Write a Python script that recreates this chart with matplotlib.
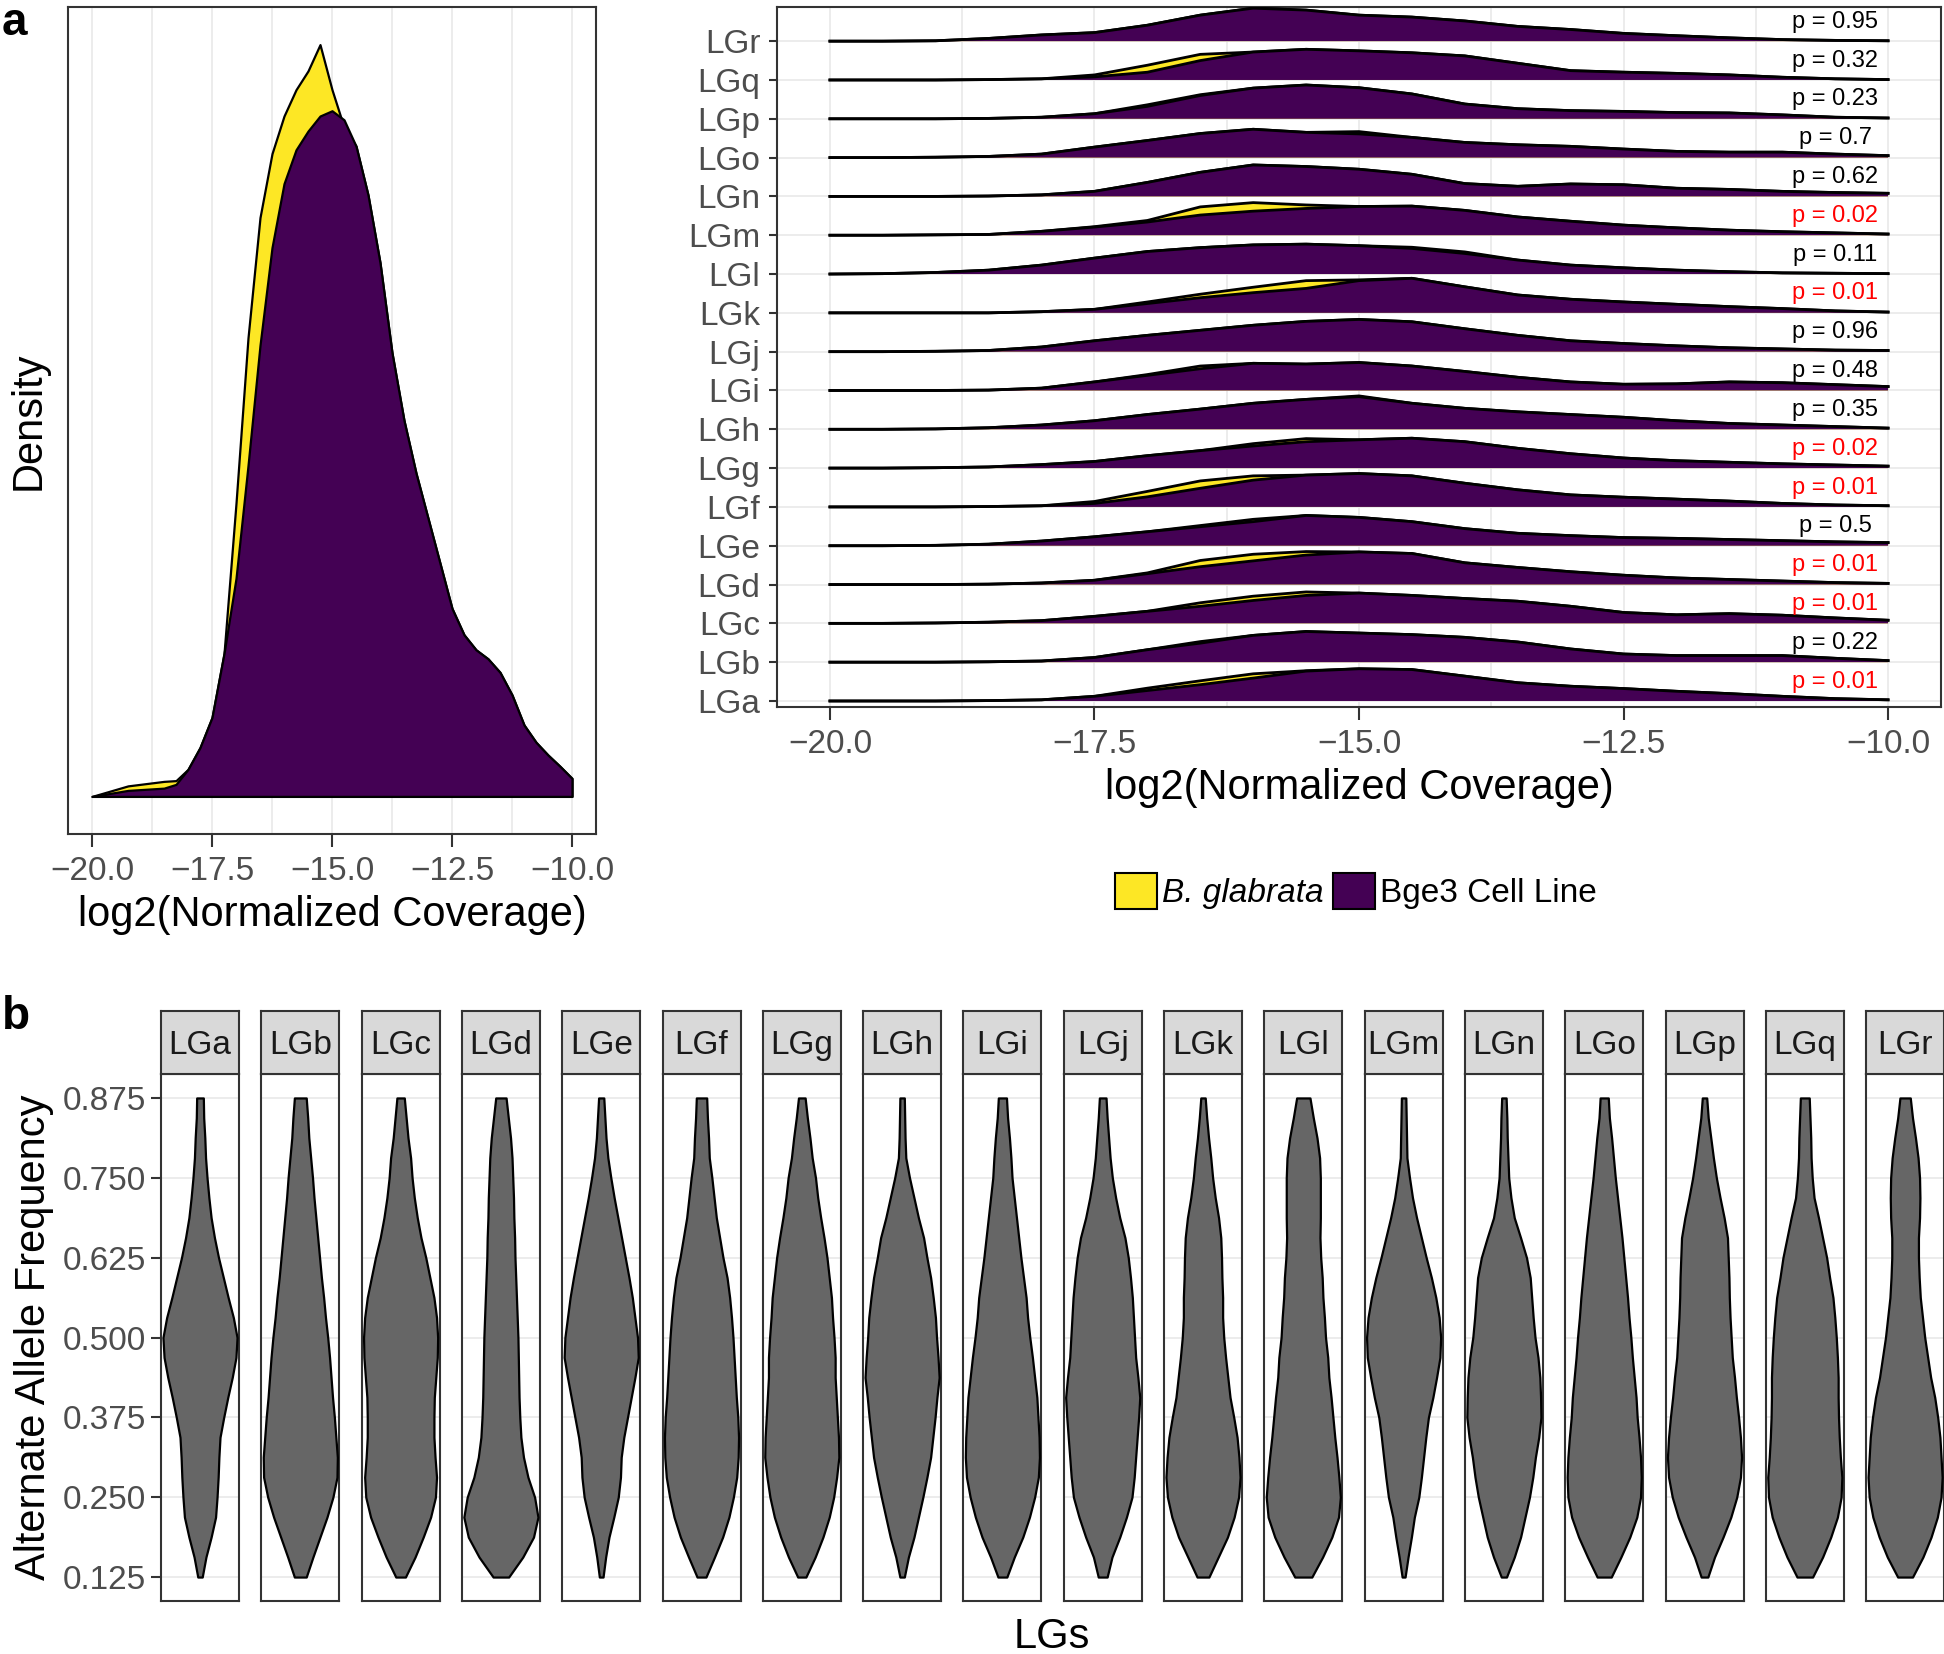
import matplotlib
matplotlib.use("Agg")
import matplotlib.pyplot as plt
from matplotlib.patches import Patch
import numpy as np

plt.rcParams['font.family'] = ['Liberation Sans', 'DejaVu Sans']

W, H = 1944, 1654
YELLOW = '#FDE725'
PURPLE = '#440154'
GRID = '#EBEBEB'
FRAME = '#333333'
TICKC = '#4D4D4D'

# ---- panel a (left): pooled coverage densities, scaled so the B. glabrata peak = 1
COV_X = [-20.0, -19.25, -18.5, -18.25, -18.0, -17.75, -17.5, -17.25, -17.0, -16.75,
         -16.5, -16.25, -16.0, -15.75, -15.5, -15.25, -15.0, -14.75, -14.5, -14.25,
         -14.0, -13.75, -13.5, -13.25, -13.0, -12.75, -12.5, -12.25, -12.0, -11.75,
         -11.5, -11.25, -11.0, -10.75, -10.5, -10.25, -10.0]
COV_BG = [0.0, 0.014, 0.02, 0.021, 0.036, 0.065, 0.105, 0.19, 0.39, 0.61,
          0.77, 0.855, 0.905, 0.94, 0.965, 1.0, 0.94, 0.89, 0.865, 0.80,
          0.71, 0.59, 0.50, 0.43, 0.37, 0.31, 0.25, 0.215, 0.195, 0.183,
          0.165, 0.135, 0.095, 0.072, 0.055, 0.04, 0.024]
COV_BGE3 = [0.0, 0.008, 0.011, 0.016, 0.036, 0.065, 0.105, 0.19, 0.29, 0.44,
            0.60, 0.73, 0.815, 0.86, 0.885, 0.905, 0.912, 0.90, 0.865, 0.80,
            0.71, 0.59, 0.50, 0.43, 0.37, 0.31, 0.25, 0.215, 0.195, 0.183,
            0.165, 0.135, 0.095, 0.072, 0.055, 0.04, 0.024]

# ---- panel a (right): per-LG ridges, heights in units of row spacing
LG_NAMES = ['LGa', 'LGb', 'LGc', 'LGd', 'LGe', 'LGf', 'LGg', 'LGh', 'LGi',
            'LGj', 'LGk', 'LGl', 'LGm', 'LGn', 'LGo', 'LGp', 'LGq', 'LGr']
RIDGE_X = [-20.0, -19.5, -19.0, -18.5, -18.0, -17.5, -17.0, -16.5, -16.0, -15.5, -15.0,
           -14.5, -14.0, -13.5, -13.0, -12.5, -12.0, -11.5, -11.0, -10.5, -10.0]
RIDGE_BGE3 = [
    [0, 0, 0, 0.01, 0.03, 0.12, 0.27, 0.42, 0.59, 0.77, 0.83, 0.81, 0.64, 0.47, 0.38, 0.32, 0.25, 0.19, 0.12, 0.06, 0.03],
    [0, 0, 0, 0.01, 0.03, 0.12, 0.32, 0.49, 0.69, 0.79, 0.75, 0.71, 0.64, 0.52, 0.34, 0.21, 0.17, 0.17, 0.17, 0.10, 0.04],
    [0, 0, 0.01, 0.03, 0.07, 0.18, 0.31, 0.44, 0.59, 0.72, 0.78, 0.72, 0.64, 0.57, 0.44, 0.28, 0.22, 0.25, 0.21, 0.14, 0.08],
    [0, 0, 0, 0.01, 0.04, 0.11, 0.28, 0.46, 0.61, 0.76, 0.84, 0.80, 0.56, 0.44, 0.33, 0.24, 0.17, 0.13, 0.09, 0.05, 0.03],
    [0, 0, 0.01, 0.04, 0.12, 0.23, 0.36, 0.49, 0.62, 0.78, 0.73, 0.62, 0.44, 0.32, 0.26, 0.21, 0.19, 0.16, 0.13, 0.10, 0.08],
    [0, 0, 0, 0.01, 0.03, 0.09, 0.26, 0.48, 0.69, 0.82, 0.86, 0.80, 0.61, 0.44, 0.31, 0.25, 0.20, 0.15, 0.09, 0.05, 0.03],
    [0, 0, 0.01, 0.03, 0.09, 0.17, 0.32, 0.45, 0.57, 0.68, 0.73, 0.77, 0.68, 0.51, 0.37, 0.26, 0.19, 0.15, 0.11, 0.08, 0.05],
    [0, 0, 0.01, 0.04, 0.11, 0.22, 0.38, 0.52, 0.67, 0.77, 0.84, 0.67, 0.54, 0.45, 0.38, 0.31, 0.22, 0.15, 0.11, 0.07, 0.03],
    [0, 0, 0, 0.01, 0.06, 0.22, 0.39, 0.56, 0.70, 0.68, 0.72, 0.63, 0.49, 0.34, 0.22, 0.16, 0.17, 0.22, 0.20, 0.15, 0.10],
    [0, 0, 0.01, 0.03, 0.12, 0.28, 0.42, 0.55, 0.68, 0.78, 0.83, 0.77, 0.59, 0.42, 0.28, 0.21, 0.15, 0.10, 0.07, 0.04, 0.03],
    [0, 0, 0, 0, 0.03, 0.09, 0.24, 0.39, 0.52, 0.63, 0.83, 0.89, 0.67, 0.46, 0.35, 0.28, 0.22, 0.16, 0.11, 0.05, 0.02],
    [0, 0.01, 0.04, 0.10, 0.23, 0.41, 0.58, 0.68, 0.75, 0.77, 0.73, 0.66, 0.53, 0.36, 0.23, 0.16, 0.10, 0.06, 0.03, 0.02, 0.01],
    [0, 0, 0.01, 0.02, 0.10, 0.21, 0.34, 0.52, 0.62, 0.69, 0.74, 0.75, 0.64, 0.47, 0.36, 0.26, 0.19, 0.13, 0.09, 0.06, 0.03],
    [0, 0, 0, 0.01, 0.04, 0.13, 0.36, 0.62, 0.81, 0.77, 0.70, 0.57, 0.33, 0.26, 0.32, 0.30, 0.21, 0.18, 0.13, 0.10, 0.08],
    [0, 0, 0.01, 0.03, 0.09, 0.27, 0.44, 0.62, 0.73, 0.65, 0.61, 0.52, 0.39, 0.33, 0.29, 0.22, 0.16, 0.14, 0.14, 0.09, 0.05],
    [0, 0, 0, 0.01, 0.04, 0.13, 0.32, 0.60, 0.79, 0.87, 0.80, 0.64, 0.38, 0.26, 0.21, 0.19, 0.16, 0.15, 0.10, 0.04, 0.02],
    [0, 0, 0, 0.01, 0.03, 0.08, 0.20, 0.50, 0.72, 0.79, 0.75, 0.70, 0.62, 0.43, 0.24, 0.20, 0.17, 0.13, 0.07, 0.03, 0.01],
    [0, 0, 0.01, 0.07, 0.16, 0.22, 0.41, 0.67, 0.85, 0.80, 0.67, 0.62, 0.52, 0.38, 0.30, 0.20, 0.14, 0.085, 0.04, 0.02, 0.01],
]
RIDGE_BG = [
    [0, 0, 0, 0.01, 0.03, 0.12, 0.33, 0.52, 0.70, 0.78, 0.83, 0.81, 0.64, 0.47, 0.38, 0.32, 0.25, 0.19, 0.12, 0.06, 0.03],
    [0, 0, 0, 0.01, 0.03, 0.12, 0.32, 0.53, 0.69, 0.79, 0.75, 0.71, 0.64, 0.52, 0.34, 0.21, 0.17, 0.17, 0.17, 0.10, 0.04],
    [0, 0, 0.01, 0.03, 0.07, 0.18, 0.31, 0.53, 0.70, 0.81, 0.78, 0.72, 0.64, 0.57, 0.44, 0.28, 0.22, 0.25, 0.21, 0.14, 0.08],
    [0, 0, 0, 0.01, 0.04, 0.11, 0.30, 0.62, 0.78, 0.85, 0.84, 0.80, 0.56, 0.44, 0.33, 0.24, 0.17, 0.13, 0.09, 0.05, 0.03],
    [0, 0, 0.01, 0.04, 0.12, 0.23, 0.36, 0.52, 0.68, 0.78, 0.73, 0.62, 0.44, 0.32, 0.26, 0.21, 0.19, 0.16, 0.13, 0.10, 0.08],
    [0, 0, 0, 0.01, 0.03, 0.14, 0.40, 0.67, 0.80, 0.82, 0.86, 0.80, 0.61, 0.44, 0.31, 0.25, 0.20, 0.15, 0.09, 0.05, 0.03],
    [0, 0, 0.01, 0.03, 0.09, 0.17, 0.32, 0.45, 0.63, 0.76, 0.73, 0.77, 0.68, 0.51, 0.37, 0.26, 0.19, 0.15, 0.11, 0.08, 0.05],
    [0, 0, 0.01, 0.04, 0.11, 0.22, 0.38, 0.52, 0.67, 0.77, 0.86, 0.67, 0.54, 0.45, 0.38, 0.31, 0.22, 0.15, 0.11, 0.07, 0.03],
    [0, 0, 0, 0.01, 0.06, 0.22, 0.41, 0.63, 0.70, 0.68, 0.72, 0.63, 0.49, 0.34, 0.22, 0.16, 0.17, 0.22, 0.20, 0.15, 0.10],
    [0, 0, 0.01, 0.03, 0.12, 0.28, 0.42, 0.55, 0.68, 0.78, 0.83, 0.77, 0.59, 0.42, 0.28, 0.21, 0.15, 0.10, 0.07, 0.04, 0.03],
    [0, 0, 0, 0, 0.03, 0.09, 0.28, 0.48, 0.66, 0.83, 0.85, 0.89, 0.67, 0.46, 0.35, 0.28, 0.22, 0.16, 0.11, 0.05, 0.02],
    [0, 0.01, 0.04, 0.10, 0.23, 0.41, 0.58, 0.68, 0.75, 0.77, 0.73, 0.69, 0.57, 0.36, 0.23, 0.16, 0.10, 0.06, 0.03, 0.02, 0.01],
    [0, 0, 0.01, 0.02, 0.10, 0.22, 0.38, 0.73, 0.84, 0.78, 0.74, 0.75, 0.64, 0.47, 0.36, 0.26, 0.19, 0.13, 0.09, 0.06, 0.03],
    [0, 0, 0, 0.01, 0.04, 0.13, 0.36, 0.62, 0.81, 0.77, 0.70, 0.57, 0.33, 0.26, 0.32, 0.30, 0.21, 0.18, 0.13, 0.10, 0.08],
    [0, 0, 0.01, 0.03, 0.09, 0.27, 0.44, 0.62, 0.73, 0.65, 0.67, 0.52, 0.39, 0.33, 0.29, 0.22, 0.16, 0.14, 0.14, 0.09, 0.05],
    [0, 0, 0, 0.01, 0.04, 0.13, 0.36, 0.62, 0.79, 0.87, 0.80, 0.64, 0.38, 0.26, 0.21, 0.19, 0.16, 0.15, 0.10, 0.04, 0.02],
    [0, 0, 0, 0.01, 0.03, 0.13, 0.38, 0.66, 0.72, 0.79, 0.75, 0.70, 0.62, 0.43, 0.24, 0.20, 0.17, 0.13, 0.07, 0.03, 0.01],
    [0, 0, 0.01, 0.07, 0.16, 0.22, 0.41, 0.67, 0.85, 0.80, 0.67, 0.62, 0.52, 0.38, 0.30, 0.20, 0.14, 0.085, 0.04, 0.02, 0.01],
]
P_LABELS = ['0.01', '0.22', '0.01', '0.01', '0.5', '0.01', '0.02', '0.35', '0.48',
            '0.96', '0.01', '0.11', '0.02', '0.62', '0.7', '0.23', '0.32', '0.95']

# ---- panel b: violin half-widths (relative to widest point), AF from 0.125 up to 0.875
AF_GRID = [0.125, 0.15625, 0.1875, 0.21875, 0.25, 0.28125, 0.3125, 0.34375, 0.375,
           0.40625, 0.4375, 0.46875, 0.5, 0.53125, 0.5625, 0.59375, 0.625, 0.65625,
           0.6875, 0.71875, 0.75, 0.78125, 0.8125, 0.84375, 0.875]
VIOLIN_W = [
    [0.06, 0.16, 0.30, 0.42, 0.46, 0.49, 0.51, 0.54, 0.64, 0.75, 0.87, 0.97, 1.0, 0.90, 0.76, 0.63, 0.50, 0.39, 0.30, 0.24, 0.19, 0.15, 0.13, 0.10, 0.09],
    [0.16, 0.34, 0.53, 0.72, 0.88, 0.99, 1.0, 0.96, 0.92, 0.87, 0.83, 0.79, 0.74, 0.68, 0.63, 0.57, 0.52, 0.47, 0.42, 0.37, 0.33, 0.28, 0.23, 0.20, 0.16],
    [0.13, 0.39, 0.61, 0.81, 0.94, 0.97, 0.93, 0.90, 0.90, 0.91, 0.95, 0.99, 1.0, 0.97, 0.90, 0.79, 0.68, 0.55, 0.45, 0.37, 0.31, 0.27, 0.20, 0.15, 0.10],
    [0.21, 0.59, 0.88, 1.0, 0.91, 0.73, 0.61, 0.54, 0.51, 0.49, 0.48, 0.47, 0.46, 0.44, 0.42, 0.40, 0.38, 0.37, 0.35, 0.34, 0.32, 0.30, 0.26, 0.20, 0.14],
    [0.05, 0.12, 0.21, 0.34, 0.46, 0.52, 0.54, 0.61, 0.71, 0.81, 0.91, 1.0, 0.98, 0.91, 0.84, 0.75, 0.65, 0.55, 0.45, 0.35, 0.26, 0.18, 0.13, 0.10, 0.07],
    [0.12, 0.35, 0.57, 0.74, 0.86, 0.95, 0.99, 1.0, 0.98, 0.94, 0.91, 0.88, 0.85, 0.81, 0.76, 0.69, 0.58, 0.49, 0.40, 0.34, 0.28, 0.21, 0.19, 0.16, 0.14],
    [0.11, 0.36, 0.57, 0.74, 0.86, 0.94, 1.0, 0.99, 0.96, 0.93, 0.90, 0.90, 0.87, 0.83, 0.80, 0.74, 0.68, 0.60, 0.51, 0.43, 0.37, 0.28, 0.22, 0.15, 0.09],
    [0.06, 0.17, 0.32, 0.44, 0.56, 0.67, 0.77, 0.83, 0.89, 0.94, 1.0, 0.97, 0.93, 0.90, 0.84, 0.77, 0.67, 0.58, 0.44, 0.32, 0.20, 0.10, 0.08, 0.07, 0.06],
    [0.12, 0.32, 0.55, 0.73, 0.87, 0.97, 1.0, 0.99, 0.96, 0.93, 0.87, 0.81, 0.74, 0.68, 0.64, 0.57, 0.50, 0.44, 0.38, 0.32, 0.26, 0.23, 0.19, 0.14, 0.11],
    [0.12, 0.25, 0.46, 0.64, 0.79, 0.85, 0.89, 0.93, 0.97, 1.0, 0.95, 0.89, 0.86, 0.83, 0.80, 0.75, 0.69, 0.60, 0.46, 0.35, 0.26, 0.20, 0.16, 0.12, 0.09],
    [0.16, 0.41, 0.66, 0.84, 0.96, 1.0, 0.97, 0.92, 0.83, 0.73, 0.67, 0.61, 0.56, 0.53, 0.53, 0.51, 0.50, 0.48, 0.42, 0.33, 0.26, 0.21, 0.15, 0.10, 0.06],
    [0.23, 0.52, 0.77, 0.95, 1.0, 0.96, 0.91, 0.85, 0.80, 0.75, 0.69, 0.66, 0.60, 0.57, 0.53, 0.51, 0.47, 0.45, 0.46, 0.46, 0.46, 0.44, 0.37, 0.27, 0.18],
    [0.04, 0.12, 0.21, 0.29, 0.41, 0.48, 0.54, 0.60, 0.67, 0.79, 0.89, 0.98, 1.0, 0.96, 0.87, 0.75, 0.61, 0.48, 0.35, 0.24, 0.16, 0.09, 0.08, 0.07, 0.06],
    [0.07, 0.28, 0.45, 0.57, 0.69, 0.78, 0.85, 0.94, 1.0, 0.99, 0.97, 0.92, 0.84, 0.79, 0.75, 0.71, 0.61, 0.45, 0.28, 0.19, 0.13, 0.11, 0.09, 0.08, 0.06],
    [0.19, 0.45, 0.69, 0.88, 0.98, 1.0, 0.98, 0.94, 0.89, 0.86, 0.81, 0.76, 0.72, 0.67, 0.63, 0.58, 0.53, 0.48, 0.42, 0.36, 0.30, 0.25, 0.20, 0.14, 0.11],
    [0.09, 0.27, 0.50, 0.71, 0.87, 0.97, 1.0, 0.97, 0.92, 0.86, 0.81, 0.75, 0.72, 0.69, 0.67, 0.66, 0.64, 0.62, 0.53, 0.42, 0.32, 0.24, 0.17, 0.10, 0.06],
    [0.21, 0.48, 0.70, 0.88, 0.98, 1.0, 0.96, 0.93, 0.91, 0.90, 0.90, 0.88, 0.85, 0.81, 0.76, 0.67, 0.59, 0.48, 0.37, 0.25, 0.20, 0.17, 0.16, 0.14, 0.12],
    [0.20, 0.48, 0.70, 0.87, 0.97, 1.0, 0.97, 0.94, 0.88, 0.80, 0.69, 0.61, 0.53, 0.47, 0.41, 0.38, 0.36, 0.36, 0.39, 0.40, 0.39, 0.35, 0.28, 0.20, 0.14],
]
AF_TICKS = [0.125, 0.25, 0.375, 0.5, 0.625, 0.75, 0.875]
COV_TICKS = [-20.0, -17.5, -15.0, -12.5, -10.0]
COV_MINOR = [-18.75, -16.25, -13.75, -11.25]


def px_axes(l, t, r, b):
    return fig.add_axes([l / W, 1 - b / H, (r - l) / W, (b - t) / H])


def style_frame(ax):
    for s in ax.spines.values():
        s.set_color(FRAME)
        s.set_linewidth(1.5)


def cov_xaxis(ax):
    ax.set_xlim(-20.5, -9.5)
    ax.set_xticks(COV_TICKS)
    ax.set_xticklabels([f'{v:.1f}'.replace('-', '\u2212') for v in COV_TICKS])
    ax.set_xticks(COV_MINOR, minor=True)
    ax.tick_params(axis='x', which='major', length=9, width=1.5, color=FRAME,
                   labelsize=24, labelcolor=TICKC, pad=6.5)
    ax.tick_params(axis='x', which='minor', length=0)
    ax.grid(axis='x', which='both', color=GRID, lw=1.3)
    ax.set_axisbelow(True)
    ax.set_xlabel('log2(Normalized Coverage)', fontsize=30, labelpad=6)


fig = plt.figure(figsize=(W / 100, H / 100), dpi=100)

# panel a, pooled density
ax = px_axes(68, 7, 596, 834)
ax.fill_between(COV_X, 0, COV_BG, facecolor=YELLOW, edgecolor='black', lw=1.6, zorder=2)
ax.fill_between(COV_X, 0, COV_BGE3, facecolor=PURPLE, edgecolor='black', lw=1.6, zorder=3)
ax.set_ylim(-0.05, 1.05)
ax.set_yticks([])
ax.set_ylabel('Density', fontsize=30, labelpad=14)
cov_xaxis(ax)
style_frame(ax)

# panel a, ridges per LG
ax2 = px_axes(777, 7, 1941, 707)
rx = np.array(RIDGE_X)
for i in range(len(LG_NAMES)):
    z = 10 + (len(LG_NAMES) - i) * 3
    bg = i + np.array(RIDGE_BG[i])
    bge3 = i + np.array(RIDGE_BGE3[i])
    ax2.fill_between(rx, i, bg, facecolor=YELLOW, lw=0, zorder=z)
    ax2.plot(rx, bg, color='black', lw=2.0, zorder=z + 0.5)
    ax2.fill_between(rx, i, bge3, facecolor=PURPLE, lw=0, zorder=z + 1)
    ax2.plot(rx, bge3, color='black', lw=2.0, zorder=z + 2)
    p = P_LABELS[i]
    ax2.text(-10.5, i + 0.5, f'p = {p}', ha='center', va='center', fontsize=17,
             color='#FF0000' if float(p) <= 0.05 else 'black', zorder=200)
ax2.set_ylim(-0.155, 17.88)
ax2.set_yticks(range(len(LG_NAMES)))
ax2.set_yticklabels(LG_NAMES)
ax2.tick_params(axis='y', length=6, width=1.5, color=FRAME, labelsize=24,
                labelcolor=TICKC, pad=6)
ax2.grid(axis='y', color=GRID, lw=1.3)
cov_xaxis(ax2)
style_frame(ax2)

leg = fig.legend(handles=[Patch(facecolor=YELLOW, edgecolor='black', lw=1.5, label='B. glabrata'),
                          Patch(facecolor=PURPLE, edgecolor='black', lw=1.5, label='Bge3 Cell Line')],
                 loc='center', bbox_to_anchor=(1356 / W, 1 - 891 / H), ncol=2, frameon=False,
                 fontsize=24, handlelength=1.25, handleheight=1.3, handletextpad=0.15,
                 columnspacing=0.3, borderpad=0)
leg.get_texts()[0].set_style('italic')

# panel b, violins
af = np.array(AF_GRID)
for i, name in enumerate(LG_NAMES):
    l = 161 + i * 100.3
    axv = px_axes(l, 1074, l + 78, 1601)
    w = np.array(VIOLIN_W[i]) * 0.95
    axv.fill_betweenx(af, -w, w, facecolor='#666666', edgecolor='black', lw=1.6, zorder=3)
    axv.set_xlim(-1, 1)
    axv.set_ylim(0.0875, 0.9125)
    axv.set_xticks([])
    axv.set_yticks(AF_TICKS)
    axv.grid(axis='y', color=GRID, lw=1.3)
    axv.set_axisbelow(True)
    if i == 0:
        axv.set_yticklabels([f'{v:.3f}' for v in AF_TICKS])
        axv.tick_params(axis='y', length=7, width=1.5, color=FRAME, labelsize=24,
                        labelcolor=TICKC, pad=4)
        axv.set_ylabel('Alternate Allele Frequency', fontsize=30, labelpad=6)
    else:
        axv.tick_params(axis='y', length=0, labelleft=False)
    style_frame(axv)

    axs = px_axes(l, 1011, l + 78, 1074)
    axs.set_facecolor('#D9D9D9')
    axs.set_xticks([])
    axs.set_yticks([])
    axs.text(0.5, 0.45, name, ha='center', va='center', fontsize=24, color='#1A1A1A',
             transform=axs.transAxes)
    style_frame(axs)

fig.text(1052 / W, 1 - 1637 / H, 'LGs', ha='center', va='center', fontsize=30)
fig.text(2 / W, 1 - 1 / H, 'a', ha='left', va='top', fontsize=33, fontweight='bold')
fig.text(2 / W, 1 - 1029 / H, 'b', ha='left', va='baseline', fontsize=33, fontweight='bold')

fig.savefig('out.png', dpi=100)
